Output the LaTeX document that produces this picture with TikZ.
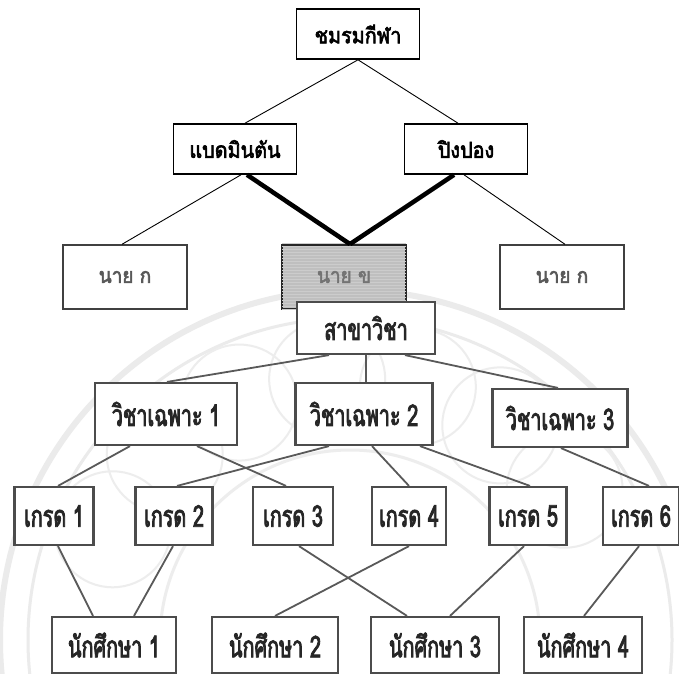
\documentclass[tikz,border=0pt]{standalone}
\usepackage{fontspec}
\usetikzlibrary{calc,patterns}
\newfontfamily\thaifont[Script=Thai,FakeBold=2.8,FakeStretch=0.9]{Loma}
\newfontfamily\thainarrow[Script=Thai,FakeBold=2.6,FakeStretch=0.66]{Loma}
\begin{document}
\begin{tikzpicture}[x=1pt,y=-1pt,
  topbox/.style={draw=black,line width=1.6pt,fill=white,minimum width=123pt,minimum height=50pt,
    inner sep=0pt,font=\thaifont\fontsize{22}{23}\selectfont},
  pbox/.style={draw=black!75,line width=1.4pt,fill=white,minimum width=124pt,minimum height=64pt,
    inner sep=0pt,text=black!65,font=\thaifont\fontsize{21}{22}\selectfont},
  lbox/.style={draw=black!70,line width=2.2pt,fill=white,minimum height=58pt,
    inner sep=0pt,text=black!85,font=\thainarrow\fontsize{30}{31}\selectfont},
  thin/.style={draw=black,line width=0.9pt},
  thick/.style={draw=black,line width=4.5pt},
  link/.style={draw=black!65,line width=1.8pt},
  seal/.style={draw=black!8,line width=6pt}
]
\useasboundingbox (0,0) rectangle (679,673);
\fill[white] (0,0) rectangle (679,673);

% faint seal behind the lower chart
\begin{scope}
  \clip (0,282) rectangle (679,673);
  \draw[seal] (350,640) circle (350);
  \draw[seal,line width=3pt] (350,640) circle (322);
  \draw[draw=black!7,line width=3pt] (350,640) circle (190);
  \foreach \a in {205,225,...,335}
    \draw[draw=black!7,line width=2pt] ($(350,640)+(\a:262)$) circle (58);
\end{scope}

% upper chart: sports club
\node[topbox] (club) at (358,34) {ชมรมกีฬา};
\node[topbox] (bad) at (235,149) {แบดมินตัน};
\node[topbox] (ping) at (466,149) {ปิงปอง};
\node[pbox] (p1) at (125,277) {นาย ก};
\node[pbox,draw=black!85,line width=1.8pt,fill=black!25] (p2) at (344,277) {};
\fill[pattern=horizontal lines,pattern color=white!80!black] ([shift={(1pt,-1pt)}]p2.south west) rectangle ([shift={(-1pt,1pt)}]p2.north east);
\node[text=black!55,font=\thaifont\fontsize{21}{22}\selectfont] (p2t) at (p2) {นาย ข};
\node[pbox] (p3) at (562,277) {นาย ก};

\draw[thin] (club.south) -- ([xshift=10pt]bad.north);
\draw[thin] (club.south) -- ([xshift=-8pt]ping.north);
\draw[thin] ([xshift=6pt]bad.south) -- ([xshift=-3pt]p1.north);
\draw[thick] ([xshift=12pt]bad.south) -- ([xshift=6pt]p2.north);
\draw[thick] ([xshift=-12pt]ping.south) -- ([xshift=6pt]p2.north);
\draw[thin] ([xshift=-2pt]ping.south) -- ([xshift=3pt]p3.north);

% lower chart: field of study
\node[lbox,minimum width=138pt,minimum height=52pt] (ssv) at (366,328) {สาขาวิชา};
\node[lbox,minimum width=142pt,minimum height=62pt] (v1) at (166,414) {วิชาเฉพาะ 1};
\node[lbox,minimum width=137pt,minimum height=62pt] (v2) at (364,414) {วิชาเฉพาะ 2};
\node[lbox,minimum width=135pt,minimum height=58pt] (v3) at (560,418) {วิชาเฉพาะ 3};

\node[lbox,minimum width=79pt] (g1) at (54,516) {เกรด 1};
\node[lbox,minimum width=77pt] (g2) at (174,516) {เกรด 2};
\node[lbox,minimum width=80pt] (g3) at (293,516) {เกรด 3};
\node[lbox,minimum width=74pt] (g4) at (409,516) {เกรด 4};
\node[lbox,minimum width=77pt] (g5) at (528,516) {เกรด 5};
\node[lbox,minimum width=76pt] (g6) at (641,516) {เกรด 6};

\node[lbox,minimum width=124pt,minimum height=56pt] (s1) at (114,645) {นักศึกษา 1};
\node[lbox,minimum width=126pt,minimum height=56pt] (s2) at (275,645) {นักศึกษา 2};
\node[lbox,minimum width=128pt,minimum height=56pt] (s3) at (435,645) {นักศึกษา 3};
\node[lbox,minimum width=118pt,minimum height=56pt] (s4) at (583,645) {นักศึกษา 4};

\draw[link] ([xshift=-37pt]ssv.south) -- ([xshift=1pt]v1.north);
\draw[link] (ssv.south) -- ([xshift=2pt]v2.north);
\draw[link] ([xshift=39pt]ssv.south) -- ([xshift=-2pt]v3.north);

\draw[link] ([xshift=-36pt]v1.south) -- ([xshift=4pt]g1.north);
\draw[link] ([xshift=31pt]v1.south) -- ([xshift=-7pt]g3.north);
\draw[link] ([xshift=-35pt]v2.south) -- ([xshift=3pt]g2.north);
\draw[link] ([xshift=8pt]v2.south) -- (g4.north);
\draw[link] ([xshift=56pt]v2.south) -- ([xshift=2pt]g5.north);
\draw[link] ([xshift=1pt]v3.south) -- ([xshift=8pt]g6.north);

\draw[link] ([xshift=4pt]g1.south) -- ([xshift=-21pt]s1.north);
\draw[link] ([xshift=-1pt]g2.south) -- ([xshift=20pt]s1.north);
\draw[link] ([xshift=6pt]g3.south) -- ([xshift=-28pt]s3.north);
\draw[link] (g4.south) -- (s2.north);
\draw[link] ([xshift=-4pt]g5.south) -- ([xshift=15pt]s3.north);
\draw[link] ([xshift=-2pt]g6.south) -- ([xshift=1pt]s4.north);
\end{tikzpicture}
\end{document}
